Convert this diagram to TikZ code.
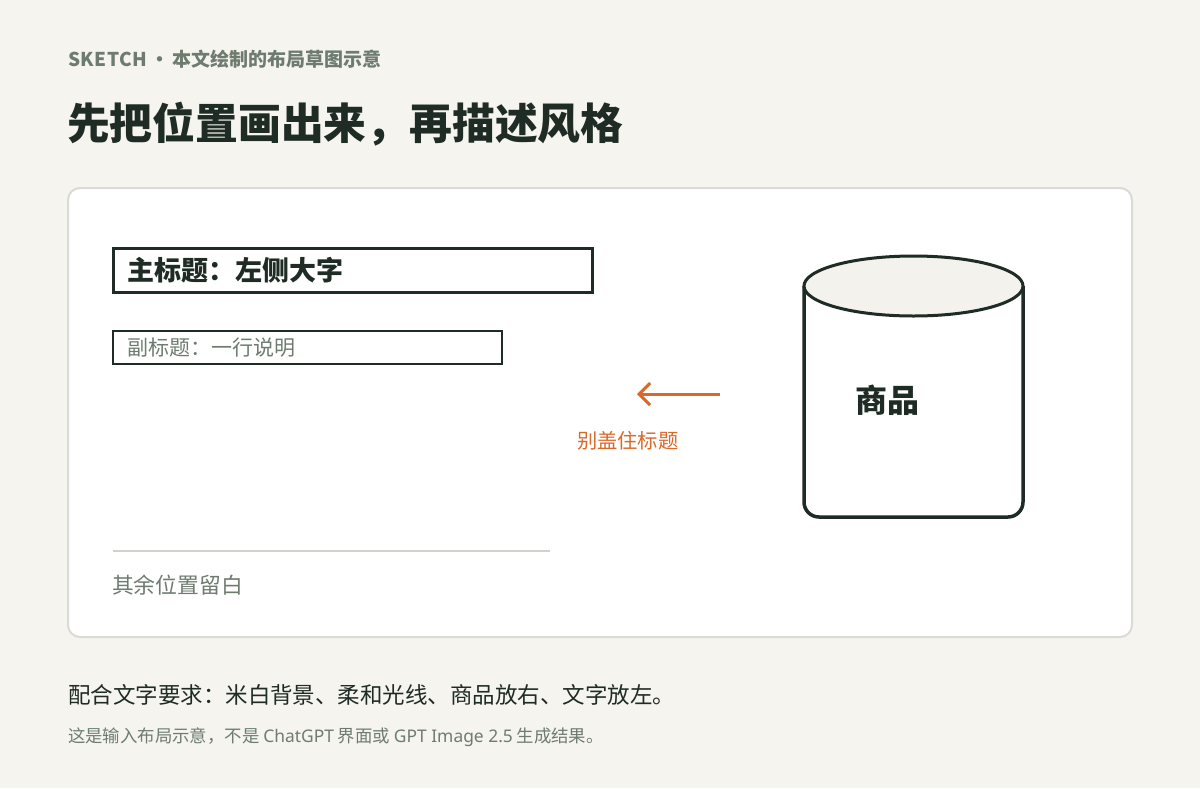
\documentclass[tikz,border=0pt]{standalone}
\usepackage{fontspec}
\setmainfont{Noto Sans CJK SC}
\newfontfamily\latin{Noto Sans}
\newfontfamily\spaced{Noto Sans CJK SC}[LetterSpace=3]
\usetikzlibrary{arrows.meta}
\definecolor{bg}{HTML}{F5F4EF}
\definecolor{ink}{HTML}{1F2B25}
\definecolor{muted}{HTML}{6E7C70}
\definecolor{cardline}{HTML}{DADBD6}
\definecolor{accent}{HTML}{D9692A}
\definecolor{lidfill}{HTML}{F3F2ED}
\definecolor{rule}{HTML}{CFD3CC}
\tikzset{
  txt/.style={anchor=west, inner sep=0pt, outer sep=0pt},
  boxline/.style={draw=ink},
}
\begin{document}
\begin{tikzpicture}[x=1pt,y=-1pt]
\useasboundingbox[fill=bg] (0,0) rectangle (1200,788);
% header
\node[txt, text=muted, font=\fontsize{19}{22}\selectfont\bfseries] (kicker) at (68,59) {{\spaced\bfseries SKETCH}\,•\,本文绘制的布局草图示意};
\node[txt, text=ink, font=\fontsize{42.8}{50}\selectfont\bfseries] (title) at (67,124) {先把位置画出来，再描述风格};
% card
\draw[cardline, line width=2pt, fill=white, rounded corners=12pt] (68,188) rectangle (1132,637);
% main title box
\draw[boxline, line width=3pt] (113,248) rectangle (592,292);
\node[txt, text=ink, font=\fontsize{27}{32}\selectfont\bfseries] (h1) at (127,270) {主标题：左侧大字};
% subtitle box
\draw[boxline, line width=2pt] (113,331) rectangle (502,364);
\node[txt, text=muted, font=\fontsize{21}{25}\selectfont] (h2) at (127,348) {副标题：一行说明};
% cylinder
\draw[ink, line width=3.5pt, fill=white, rounded corners=15pt] (804,286) -- (804,517) -- (1023,517) -- (1023,286);
\draw[ink, line width=3pt, fill=lidfill] (913.5,286) ellipse[x radius=109.5, y radius=30];
\node[txt, text=ink, font=\fontsize{32}{38}\selectfont\bfseries] (product) at (855,400) {商品};
% arrow
\coordinate (arrS) at (720,394);
\coordinate (arrE) at (637,394);
\draw[accent, line width=3pt, -{Straight Barb[length=11pt,width=22pt]}] (arrS) -- (arrE);
\node[txt, text=accent, font=\fontsize{20.3}{24}\selectfont] (warn) at (577,441) {别盖住标题};
% rule + note
\coordinate (ruleA) at (113,551);
\coordinate (ruleB) at (550,551);
\draw[rule, line width=2pt] (ruleA) -- (ruleB);
\node[txt, text=muted, font=\fontsize{21.8}{26}\selectfont] (blank) at (112,585) {其余位置留白};
% footer
\node[txt, text=ink, font=\fontsize{22.5}{27}\selectfont] (req) at (68,695) {配合文字要求：米白背景、柔和光线、商品放右、文字放左。};
\node[txt, text=muted, font=\fontsize{17.4}{20}\selectfont] (note) at (68,737) {这是输入布局示意，不是 {\latin ChatGPT} 界面或 {\latin GPT Image 2.5} 生成结果。};
\end{tikzpicture}
\end{document}
